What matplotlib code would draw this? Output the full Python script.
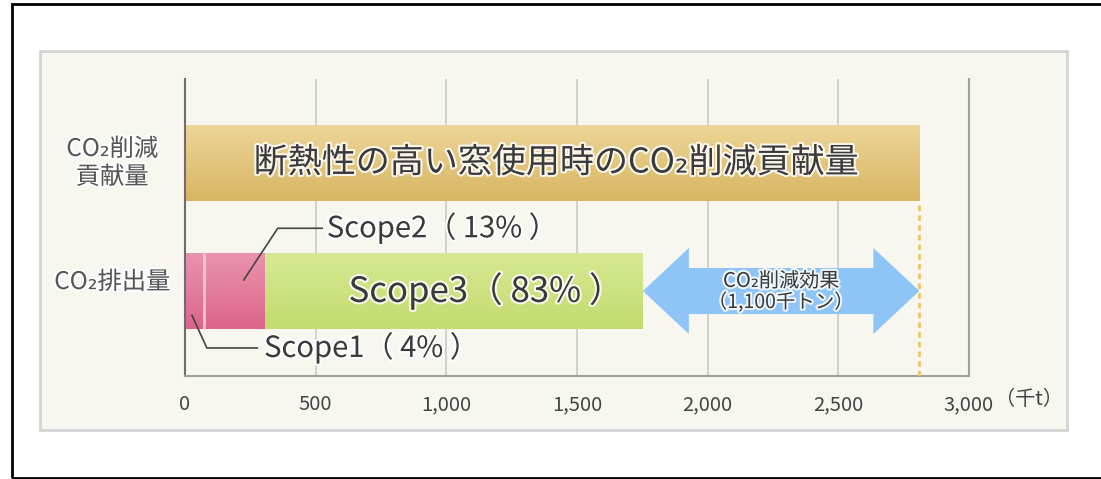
import numpy as np
import matplotlib.pyplot as plt
from matplotlib.patches import Polygon, Rectangle
import matplotlib.patheffects as pe
from matplotlib.colors import LinearSegmentedColormap

plt.rcParams['font.family'] = ['Noto Sans CJK JP', 'DejaVu Sans']

# data (thousand t-CO2)
categories = ['CO₂排出量', 'CO₂削減\n貢献量']
scope_names = ['Scope1', 'Scope2', 'Scope3']
scope_values = [72, 235, 1445]
scope_pct = [4, 13, 83]
contribution = 2810
reduction_label = '（1,100千トン）'
xticks = [0, 500, 1000, 1500, 2000, 2500, 3000]
xtick_labels = ['0', '500', '1,000', '1,500', '2,000', '2,500', '3,000']

TXT = '#3a3a3a'
halo = [pe.withStroke(linewidth=3, foreground='white', alpha=0.85)]

fig = plt.figure(figsize=(11.01, 4.79), dpi=100)
W, H = 1101, 479

# outer frame (open on the right) and light panel, kept behind the axes
fig.add_artist(Rectangle((12 / W, 1 - 478 / H), 1.2, (474) / H, transform=fig.transFigure,
                         fill=False, ec='black', lw=2, zorder=-10))
fig.add_artist(Rectangle((40 / W, 1 - 430 / H), 1027 / W, 379 / H, transform=fig.transFigure,
                         fc='#f7f7ef', ec='#d4d4d4', lw=2, zorder=-10))

ax = fig.add_axes([185 / W, 1 - 376 / H, 784 / W, 297 / H])
ax.set_facecolor('none')

bar_h = 0.594
ylo, yhi = -0.664, 1.656


def grad_bar(left, width, y, c_top, c_bot):
    bars = ax.barh(y, width, left=left, height=bar_h, color=c_bot, lw=0, zorder=2)
    cmap = LinearSegmentedColormap.from_list('g', [c_top, c_bot])
    img = ax.imshow(np.linspace(0, 1, 64).reshape(-1, 1), cmap=cmap, aspect='auto',
                    extent=(left, left + width, y - bar_h / 2, y + bar_h / 2),
                    origin='upper', zorder=2.5)
    img.set_clip_path(bars.patches[0])
    return bars


# contribution bar
grad_bar(0, contribution, 1, '#edd698', '#d8b663')
ax.text(contribution * 0.505, 1, '断熱性の高い窓使用時のCO₂削減貢献量', ha='center', va='center',
        fontsize=24.5, color=TXT, path_effects=halo, zorder=5)

# emission bars
lefts = np.concatenate([[0], np.cumsum(scope_values)[:-1]])
grad_bar(lefts[0], scope_values[0] + scope_values[1], 0, '#ea94af', '#dc6589')
grad_bar(lefts[2], scope_values[2], 0, '#d6e992', '#c3db70')
ax.vlines(scope_values[0], -bar_h / 2, bar_h / 2, color='#f3c6d4', lw=2, zorder=3)

total = sum(scope_values)
ax.text(lefts[2] + scope_values[2] * 0.585, 0, f'{scope_names[2]}（ {scope_pct[2]}% ）',
        ha='center', va='center', fontsize=25, color=TXT, path_effects=halo, zorder=5)

# Scope2 leader
s2 = lefts[1] + scope_values[1] * 0.65
ax.plot([s2, s2 + 130, s2 + 300], [0.086, 0.49, 0.49], color='#444', lw=1.2, zorder=4)
ax.text(s2 + 318, 0.49, f'{scope_names[1]}（ {scope_pct[1]}% ）', ha='left', va='center',
        fontsize=21, color=TXT, path_effects=halo, zorder=5)

# Scope1 leader
s1 = scope_values[0] * 0.37
ax.plot([s1, s1 + 57, s1 + 250], [-0.19, -0.445, -0.445], color='#444', lw=1.2, zorder=4)
ax.text(s1 + 276, -0.445, f'{scope_names[0]}（ {scope_pct[0]}% ）', ha='left', va='center',
        fontsize=21, color=TXT, path_effects=halo, zorder=5)

# reduction double arrow
hl, sh, hh = 176, 0.18, 0.336
x0, x1 = total, contribution
arrow = Polygon([(x0, 0), (x0 + hl, hh), (x0 + hl, sh), (x1 - hl, sh), (x1 - hl, hh),
                 (x1, 0), (x1 - hl, -hh), (x1 - hl, -sh), (x0 + hl, -sh), (x0 + hl, -hh)],
                closed=True, fc='#8fc4f6', ec='none', zorder=3)
ax.add_patch(arrow)
ax.text((x0 + x1) / 2, 0.075, 'CO₂削減効果', ha='center', va='center', fontsize=14.5,
        color=TXT, path_effects=halo, zorder=5)
ax.text((x0 + x1) / 2, -0.09, reduction_label, ha='center', va='center', fontsize=14,
        color=TXT, path_effects=halo, zorder=5)

# dotted guide under contribution bar end
ax.vlines(contribution, ylo, 1 - bar_h / 2, color='#e9c56a', lw=2,
          linestyles=(0, (2, 1.5)), zorder=3)

# category labels
for yi, lab in enumerate(categories):
    ax.text(-0.093, yi + (0.07 if yi == 0 else 0), lab, transform=ax.get_yaxis_transform(),
            ha='center', va='center', fontsize=17.5, color='#555', linespacing=1.1,
            path_effects=halo)

ax.set_xlim(0, 3000)
ax.set_ylim(ylo, yhi)
ax.set_xticks(xticks)
ax.set_xticklabels(xtick_labels, fontsize=14.5, color='#444')
ax.tick_params(axis='x', length=0, pad=13)
ax.set_yticks([])
ax.grid(axis='x', color='#cdcdcd', lw=1.3, zorder=0)
ax.set_axisbelow(True)
ax.spines['top'].set_visible(False)
ax.spines['left'].set_color('#6e6e6e')
ax.spines['left'].set_linewidth(1.5)
ax.spines['bottom'].set_color('#a0a0a0')
ax.spines['bottom'].set_linewidth(1.5)
ax.spines['right'].set_color('#a0a0a0')
ax.spines['right'].set_linewidth(1.5)

ax.text(1.077, -0.08, '（千t）', transform=ax.transAxes, ha='center', va='center',
        fontsize=14.5, color='#444')

fig.savefig('out.png', dpi=100)
